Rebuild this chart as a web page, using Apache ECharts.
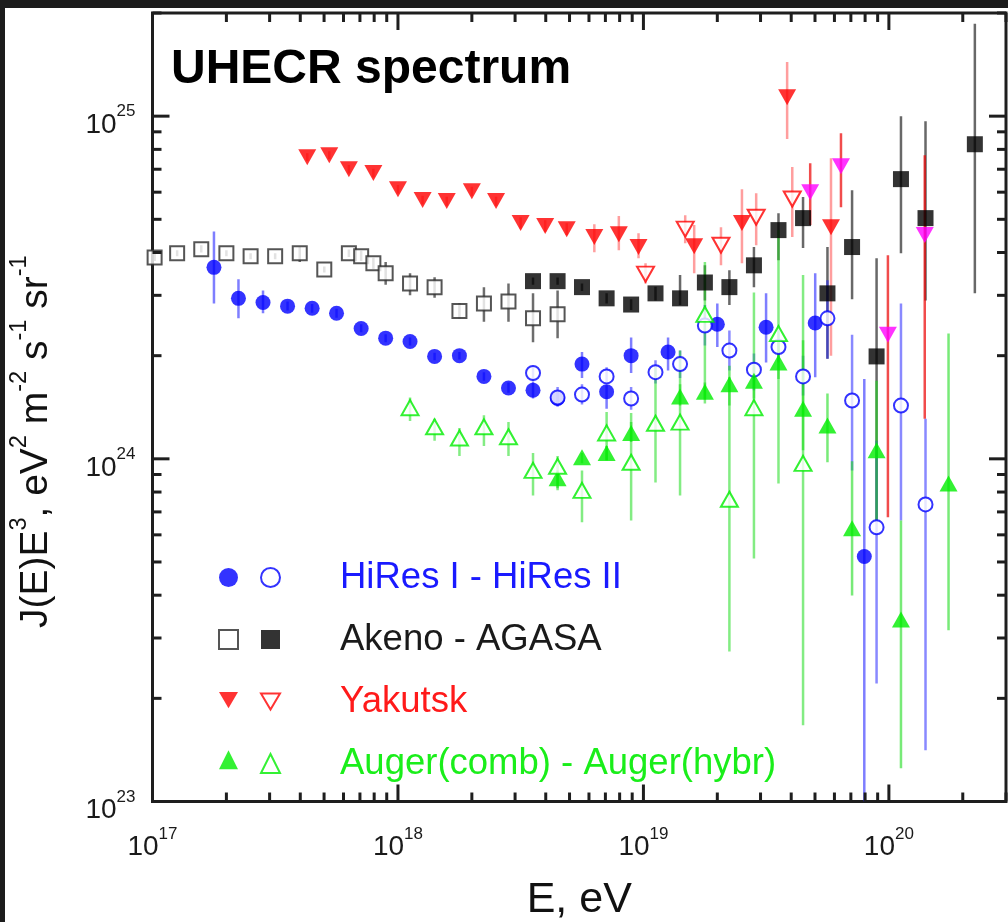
<!DOCTYPE html>
<html>
<head>
<meta charset="utf-8">
<script src="https://cdn.jsdelivr.net/npm/echarts@6/dist/echarts.min.js"></script>
<style>
html,body{margin:0;padding:0;background:#1b1b1b;}
#c{width:1008px;height:922px;}
</style>
</head>
<body>
<div id="c"></div>
<script>
// ---------------- DATA (E in eV, J(E)E^3 in eV^2 m^-2 s^-1 sr^-1) ----------------
const hiresI_E  = [1.78e17, 2.24e17, 2.82e17, 3.55e17, 4.47e17, 5.62e17, 7.08e17, 8.91e17, 1.12e18, 1.41e18, 1.78e18, 2.24e18, 2.82e18, 3.55e18, 4.47e18, 5.62e18, 7.08e18, 8.91e18, 1.26e19, 2.00e19, 3.16e19, 5.01e19, 7.94e19];
const hiresI_J  = [3.62e24, 2.94e24, 2.86e24, 2.79e24, 2.75e24, 2.66e24, 2.40e24, 2.25e24, 2.20e24, 1.99e24, 2.00e24, 1.74e24, 1.61e24, 1.585e24, 1.50e24, 1.89e24, 1.57e24, 2.00e24, 2.05e24, 2.47e24, 2.42e24, 2.49e24, 5.19e23];
const hiresI_lo = [2.84e24, 2.57e24, 2.66e24, 2.71e24, 2.67e24, 2.58e24, 2.34e24, 2.19e24, 2.14e24, 1.94e24, 1.95e24, 1.69e24, 1.56e24, 1.50e24, 1.42e24, 1.72e24, 1.40e24, 1.78e24, 1.81e24, 2.12e24, 1.91e24, 1.73e24, 1.0e23];
const hiresI_hi = [4.61e24, 3.34e24, 3.10e24, 2.88e24, 2.83e24, 2.74e24, 2.47e24, 2.31e24, 2.26e24, 2.04e24, 2.05e24, 1.79e24, 1.67e24, 1.68e24, 1.58e24, 2.05e24, 1.64e24, 2.26e24, 2.26e24, 2.84e24, 3.04e24, 3.48e24, 1.71e24];

const hiresII_E  = [3.55e18, 4.47e18, 5.62e18, 7.08e18, 8.91e18, 1.12e19, 1.41e19, 1.78e19, 2.24e19, 2.82e19, 3.55e19, 4.47e19, 5.62e19, 7.08e19, 8.91e19, 1.12e20, 1.41e20];
const hiresII_J  = [1.78e24, 1.51e24, 1.54e24, 1.74e24, 1.50e24, 1.79e24, 1.89e24, 2.45e24, 2.07e24, 1.82e24, 2.12e24, 1.74e24, 2.57e24, 1.48e24, 6.31e23, 1.43e24, 7.36e23];
const hiresII_lo = [1.69e24, 1.43e24, 1.44e24, 1.66e24, 1.39e24, 1.66e24, 1.72e24, 2.14e24, 1.81e24, 1.585e24, 1.91e24, 1.53e24, 1.96e24, 9.25e23, 2.21e23, 6.61e23, 1.41e23];
const hiresII_hi = [1.87e24, 1.62e24, 1.65e24, 1.85e24, 1.62e24, 1.94e24, 2.07e24, 2.81e24, 2.37e24, 2.03e24, 2.37e24, 2.00e24, 3.32e24, 2.30e24, 1.13e24, 2.84e24, 1.31e24];

const akeno_E  = [1.02e17, 1.26e17, 1.58e17, 2.00e17, 2.51e17, 3.16e17, 3.98e17, 5.01e17, 6.31e17, 7.08e17, 7.94e17, 8.91e17, 1.12e18, 1.41e18, 1.78e18, 2.24e18, 2.82e18, 3.55e18, 4.47e18];
const akeno_J  = [3.87e24, 3.98e24, 4.09e24, 3.98e24, 3.90e24, 3.90e24, 3.98e24, 3.57e24, 3.98e24, 3.90e24, 3.72e24, 3.48e24, 3.25e24, 3.17e24, 2.70e24, 2.84e24, 2.88e24, 2.57e24, 2.64e24];
const akeno_lo = [3.78e24, 3.90e24, 4.00e24, 3.90e24, 3.82e24, 3.82e24, 3.75e24, 3.50e24, 3.88e24, 3.78e24, 3.58e24, 3.22e24, 3.00e24, 2.95e24, 2.57e24, 2.51e24, 2.51e24, 2.19e24, 2.25e24];
const akeno_hi = [3.96e24, 4.06e24, 4.20e24, 4.06e24, 3.98e24, 3.98e24, 4.15e24, 3.64e24, 4.08e24, 4.05e24, 3.86e24, 3.75e24, 3.48e24, 3.39e24, 2.84e24, 3.17e24, 3.25e24, 3.04e24, 3.10e24];

const agasa_E  = [3.55e18, 4.47e18, 5.62e18, 7.08e18, 8.91e18, 1.12e19, 1.41e19, 1.78e19, 2.24e19, 2.82e19, 3.55e19, 4.47e19, 5.62e19, 7.08e19, 8.91e19, 1.12e20, 1.41e20, 2.24e20];
const agasa_J  = [3.30e24, 3.30e24, 3.17e24, 2.94e24, 2.82e24, 3.04e24, 2.94e24, 3.27e24, 3.17e24, 3.67e24, 4.65e24, 5.04e24, 3.04e24, 4.15e24, 1.99e24, 6.55e24, 5.04e24, 8.28e24];
const agasa_lo = [3.22e24, 3.22e24, 3.09e24, 2.84e24, 2.72e24, 2.90e24, 2.81e24, 2.90e24, 2.81e24, 3.17e24, 3.80e24, 4.12e24, 1.96e24, 2.92e24, 6.61e23, 3.98e24, 2.90e24, 3.04e24];
const agasa_hi = [3.38e24, 3.38e24, 3.25e24, 3.04e24, 2.92e24, 3.18e24, 3.44e24, 3.67e24, 3.55e24, 4.15e24, 5.21e24, 5.81e24, 4.15e24, 6.08e24, 3.85e24, 1.00e25, 9.66e24, 1.86e25];

const yak_E  = [4.27e17, 5.25e17, 6.31e17, 7.94e17, 1.00e18, 1.26e18, 1.58e18, 2.00e18, 2.51e18, 3.16e18, 3.98e18, 4.87e18, 6.31e18, 7.94e18, 9.55e18, 1.61e19, 2.52e19, 3.85e19, 5.81e19];
const yak_J  = [7.59e24, 7.69e24, 7.00e24, 6.82e24, 6.12e24, 5.69e24, 5.65e24, 6.04e24, 5.65e24, 4.88e24, 4.78e24, 4.68e24, 4.44e24, 4.52e24, 4.15e24, 4.17e24, 4.88e24, 1.135e25, 4.74e24];
const yak_lo = [7.40e24, 7.50e24, 6.80e24, 6.62e24, 5.95e24, 5.52e24, 5.48e24, 5.86e24, 5.48e24, 4.70e24, 4.60e24, 4.50e24, 4.01e24, 4.06e24, 3.85e24, 3.48e24, 3.72e24, 8.57e24, 2.00e24];
const yak_hi = [7.80e24, 7.90e24, 7.20e24, 7.02e24, 6.30e24, 5.86e24, 5.82e24, 6.22e24, 5.82e24, 5.07e24, 4.97e24, 4.87e24, 4.84e24, 5.11e24, 4.55e24, 4.81e24, 6.12e24, 1.44e25, 7.53e24];

const yakOpen_E  = [1.02e19, 1.48e19, 2.07e19, 2.88e19, 4.04e19];
const yakOpen_J  = [3.46e24, 4.68e24, 4.20e24, 5.07e24, 5.73e24];
const yakOpen_lo = [3.25e24, 4.26e24, 3.67e24, 4.20e24, 4.44e24];
const yakOpen_hi = [3.72e24, 5.14e24, 4.74e24, 5.96e24, 7.10e24];

const yakHigh_E  = [4.78e19, 6.38e19, 9.91e19, 1.40e20];
const yakHigh_J  = [6.00e24, 7.14e24, 2.30e24, 4.50e24];
const yakHigh_lo = [4.81e24, 5.42e24, 6.75e23, 1.31e24];
const yakHigh_hi = [7.29e24, 8.91e24, 3.93e24, 7.69e24];

const augerComb_E  = [4.47e18, 5.62e18, 7.08e18, 8.91e18, 1.41e19, 1.78e19, 2.24e19, 2.82e19, 3.55e19, 4.47e19, 5.62e19, 7.08e19, 8.91e19, 1.12e20, 1.75e20];
const augerComb_J  = [8.77e23, 1.01e24, 1.04e24, 1.19e24, 1.52e24, 1.57e24, 1.65e24, 1.69e24, 1.91e24, 1.40e24, 1.25e24, 6.27e23, 1.06e24, 3.40e23, 8.47e23];
const augerComb_lo = [8.20e23, 9.70e23, 9.90e23, 1.12e24, 1.43e24, 1.49e24, 1.43e24, 1.50e24, 1.71e24, 1.06e24, 9.77e23, 3.99e23, 6.61e23, 1.25e23, 3.16e23];
const augerComb_hi = [9.25e23, 1.04e24, 1.09e24, 1.28e24, 1.65e24, 1.67e24, 1.87e24, 1.85e24, 2.20e24, 2.22e24, 1.55e24, 9.84e23, 1.69e24, 6.61e23, 2.32e24];

const augerHybr_E  = [1.12e18, 1.41e18, 1.78e18, 2.24e18, 2.82e18, 3.55e18, 4.47e18, 5.62e18, 7.08e18, 8.91e18, 1.12e19, 1.41e19, 1.78e19, 2.24e19, 2.82e19, 3.55e19, 4.47e19];
const augerHybr_J  = [1.41e24, 1.24e24, 1.15e24, 1.24e24, 1.16e24, 9.25e23, 9.51e23, 8.09e23, 1.19e24, 9.77e23, 1.27e24, 1.28e24, 2.64e24, 7.62e23, 1.41e24, 2.32e24, 9.70e23];
const augerHybr_lo = [1.29e24, 1.13e24, 1.02e24, 1.09e24, 1.02e24, 7.82e23, 8.09e23, 6.53e23, 9.91e23, 6.61e23, 8.53e23, 7.82e23, 1.45e24, 2.74e23, 5.12e23, 8.47e23, 1.67e23];
const augerHybr_hi = [1.51e24, 1.31e24, 1.23e24, 1.34e24, 1.28e24, 1.04e24, 1.02e24, 9.25e23, 1.37e24, 1.36e24, 1.85e24, 2.07e24, 3.75e24, 1.73e24, 3.06e24, 4.65e24, 3.44e24];

// axis ranges and tick labels
const X_MIN = 1e17, X_MAX = 3e20;
const Y_MIN = 1e23, Y_MAX = 2e25;
const xDecades = [17, 18, 19, 20];
const yDecades = [23, 24, 25];
const titleText = 'UHECR spectrum';
const legendLabels = ['HiRes I - HiRes II', 'Akeno - AGASA', 'Yakutsk', 'Auger(comb) - Auger(hybr)'];

// ---------------- BUILD ----------------
const FONT = '"Liberation Sans", Arial, Helvetica, sans-serif';
const zip2 = (a, b) => a.map((v, i) => [v, b[i]]);
const zip3 = (a, b, c) => a.map((v, i) => [v, b[i], c[i]]);

function errSeries(E, lo, hi, color) {
  return {
    type: 'custom', z: 1, clip: true, silent: true,
    data: zip3(E, lo, hi),
    renderItem: function (params, api) {
      const p1 = api.coord([api.value(0), api.value(1)]);
      const p2 = api.coord([api.value(0), api.value(2)]);
      return { type: 'line', shape: { x1: p1[0], y1: p1[1], x2: p2[0], y2: p2[1] },
               style: { stroke: color, lineWidth: 2.5 } };
    }
  };
}

// axis tick marks (major at decades, minor at 2..9)
const xTicks = [];
xDecades.forEach(d => { for (let m = 1; m <= 9; m++) { const v = m * Math.pow(10, d); if (v <= X_MAX * 1.0001) xTicks.push([v, 1e24, m === 1 ? 17 : 9]); } });
const yTicks = [];
yDecades.forEach(d => { for (let m = 1; m <= 9; m++) { const v = m * Math.pow(10, d); if (v <= Y_MAX * 1.0001) yTicks.push([1e18, v, m === 1 ? 17 : 9]); } });
const TICK_COLOR = '#1e1e1e';

function sciLabel(v) {
  const e = Math.log10(v), r = Math.round(e);
  if (Math.abs(e - r) > 1e-6) return '';
  return '{b|10}{s|' + r + '}';
}
const labelRich = {
  b: { fontSize: 28, lineHeight: 36, verticalAlign: 'bottom', fontFamily: FONT, color: '#1a1a1a' },
  s: { fontSize: 17, lineHeight: 17, verticalAlign: 'top', fontFamily: FONT, color: '#1a1a1a' }
};

const BLUE = '#0000ff', RED = '#ff0000', GREEN = '#00ee00', MAG = '#ff00ff';
const DOWN_TRI = 'path://M0,0L20,0L10,17Z';
const LEG_PAD = [0, 0, 0, 55];

const option = {
  animation: false,
  backgroundColor: '#ffffff',
  graphic: [
    { type: 'rect', shape: { x: 0, y: 0, width: 1008, height: 8 }, style: { fill: '#1c1c1c' }, z: 100 },
    { type: 'rect', shape: { x: 0, y: 0, width: 5, height: 922 }, style: { fill: '#1c1c1c' }, z: 100 }
  ],
  title: {
    text: titleText, left: 171, top: 46, padding: 0,
    textStyle: { fontSize: 48, fontWeight: 'bold', fontFamily: FONT, color: '#000' }
  },
  grid: { left: 152.5, top: 13, right: 2, bottom: 120.5, containLabel: false, outerBoundsMode: 'none',
          show: true, borderColor: '#1e1e1e', borderWidth: 3, backgroundColor: '#fff' },
  xAxis: {
    type: 'log', logBase: 10, min: X_MIN, max: X_MAX,
    axisLine: { show: false }, axisTick: { show: false }, splitLine: { show: false },
    axisLabel: { formatter: sciLabel, rich: labelRich, margin: 24, showMaxLabel: false, hideOverlap: false },
    name: 'E, eV', nameLocation: 'middle', nameGap: 77,
    nameTextStyle: { fontSize: 43, fontFamily: FONT, color: '#111' }
  },
  yAxis: {
    type: 'log', logBase: 10, min: Y_MIN, max: Y_MAX,
    axisLine: { show: false }, axisTick: { show: false }, splitLine: { show: false },
    axisLabel: { formatter: sciLabel, rich: labelRich, margin: 17, padding: [10, 0, 0, 0], showMaxLabel: false, hideOverlap: false },
    name: '{t|J(E)E}{s|3}{t|, eV}{s|2}{t| m}{s|-2}{t| s}{s|-1}{t| sr}{s|-1}',
    nameLocation: 'middle', nameRotate: 90, nameGap: 97,
    nameTextStyle: {
      padding: [0, 69, 0, 0],
      rich: {
        t: { fontSize: 39, lineHeight: 48, verticalAlign: 'bottom', fontFamily: FONT, color: '#111' },
        s: { fontSize: 23.5, lineHeight: 23.5, verticalAlign: 'top', fontFamily: FONT, color: '#111' }
      }
    }
  },
  legend: [
    {
      data: [{ name: 'HiRes I' }, { name: 'Akeno' }, { name: 'Yakutsk', icon: DOWN_TRI }, { name: 'Auger(comb)' }],
      orient: 'vertical', left: 213, top: 563, itemWidth: 19, itemHeight: 19, itemGap: 42,
      selectedMode: false, formatter: () => '', textStyle: { fontSize: 2, lineHeight: 19 }
    },
    {
      data: [{ name: 'HiRes II' }, { name: 'AGASA' },
             { name: 'Yakutsk (open)', icon: DOWN_TRI, itemStyle: { color: '#ffffff', borderColor: RED, borderWidth: 2 } },
             { name: 'Auger(hybr)' }],
      orient: 'vertical', left: 255, top: 554, itemWidth: 19, itemHeight: 19, itemGap: 25,
      selectedMode: false,
      formatter: function (name) {
        const map = { 'HiRes II': ['bl', legendLabels[0]], 'AGASA': ['bk', legendLabels[1]], 'Yakutsk (open)': ['rd', legendLabels[2]], 'Auger(hybr)': ['gr', legendLabels[3]] };
        const m = map[name];
        return '{' + m[0] + '|' + m[1] + '}';
      },
      textStyle: {
        fontSize: 36.5, lineHeight: 19, fontFamily: FONT,
        rich: {
          bl: { color: '#1a1aff', fontSize: 36.5, lineHeight: 19, fontFamily: FONT, padding: LEG_PAD },
          bk: { color: '#1a1a1a', fontSize: 36.5, lineHeight: 19, fontFamily: FONT, padding: LEG_PAD },
          rd: { color: '#ff1a1a', fontSize: 36.5, lineHeight: 19, fontFamily: FONT, padding: LEG_PAD },
          gr: { color: '#1aee1a', fontSize: 36.5, lineHeight: 19, fontFamily: FONT, padding: LEG_PAD }
        }
      }
    }
  ],
  series: [
    // error bars
    errSeries(akeno_E, akeno_lo, akeno_hi, 'rgba(60,60,60,0.75)'),
    errSeries(agasa_E, agasa_lo, agasa_hi, 'rgba(40,40,40,0.7)'),
    errSeries(hiresI_E, hiresI_lo, hiresI_hi, 'rgba(40,40,255,0.6)'),
    errSeries(hiresII_E, hiresII_lo, hiresII_hi, 'rgba(40,40,255,0.55)'),
    errSeries(yak_E, yak_lo, yak_hi, 'rgba(255,40,40,0.45)'),
    errSeries(yakOpen_E, yakOpen_lo, yakOpen_hi, 'rgba(255,40,40,0.45)'),
    errSeries(yakHigh_E, yakHigh_lo, yakHigh_hi, 'rgba(235,0,0,0.7)'),
    errSeries(augerComb_E, augerComb_lo, augerComb_hi, 'rgba(30,220,30,0.6)'),
    errSeries(augerHybr_E, augerHybr_lo, augerHybr_hi, 'rgba(30,220,30,0.55)'),
    // markers
    { name: 'Akeno', type: 'scatter', z: 3, data: zip2(akeno_E, akeno_J), symbol: 'emptyRect', symbolSize: 14, itemStyle: { color: '#2a2a2a', borderWidth: 2 } },
    { name: 'AGASA', type: 'scatter', z: 3, data: zip2(agasa_E, agasa_J), symbol: 'rect', symbolSize: 16, itemStyle: { color: '#000' } },
    { name: 'HiRes I', type: 'scatter', z: 3, data: zip2(hiresI_E, hiresI_J), symbol: 'circle', symbolSize: 15, itemStyle: { color: BLUE } },
    { name: 'HiRes II', type: 'scatter', z: 3, data: zip2(hiresII_E, hiresII_J), symbol: 'emptyCircle', symbolSize: 14, itemStyle: { color: BLUE, borderWidth: 2 } },
    { name: 'Yakutsk', type: 'scatter', z: 3, data: zip2(yak_E, yak_J), symbol: 'triangle', symbolRotate: 180, symbolSize: [18, 16], itemStyle: { color: RED } },
    { name: 'Yakutsk (open)', type: 'scatter', z: 3, data: zip2(yakOpen_E, yakOpen_J), symbol: 'emptyTriangle', symbolRotate: 180, symbolSize: [17, 15], itemStyle: { color: RED, borderWidth: 2 } },
    { name: 'Yakutsk (high)', type: 'scatter', z: 3, data: zip2(yakHigh_E, yakHigh_J), symbol: 'triangle', symbolRotate: 180, symbolSize: [18, 16], itemStyle: { color: MAG } },
    { name: 'Auger(comb)', type: 'scatter', z: 3, data: zip2(augerComb_E, augerComb_J), symbol: 'triangle', symbolSize: [18, 16], itemStyle: { color: GREEN } },
    { name: 'Auger(hybr)', type: 'scatter', z: 3, data: zip2(augerHybr_E, augerHybr_J), symbol: 'emptyTriangle', symbolSize: [17, 15], itemStyle: { color: GREEN, borderWidth: 2 } },
    // axis ticks (bottom + top)
    {
      type: 'custom', z: 5, silent: true, clip: false, data: xTicks,
      renderItem: function (params, api) {
        const cs = params.coordSys;
        const x = api.coord([api.value(0), api.value(1)])[0];
        const len = api.value(2);
        const yb = cs.y + cs.height, yt = cs.y;
        return { type: 'group', children: [
          { type: 'line', shape: { x1: x, y1: yb, x2: x, y2: yb - len }, style: { stroke: TICK_COLOR, lineWidth: 3 } },
          { type: 'line', shape: { x1: x, y1: yt, x2: x, y2: yt + len }, style: { stroke: TICK_COLOR, lineWidth: 3 } }
        ] };
      }
    },
    // axis ticks (left + right)
    {
      type: 'custom', z: 5, silent: true, clip: false, data: yTicks,
      renderItem: function (params, api) {
        const cs = params.coordSys;
        const y = api.coord([api.value(0), api.value(1)])[1];
        const len = api.value(2);
        const xl = cs.x, xr = cs.x + cs.width;
        return { type: 'group', children: [
          { type: 'line', shape: { x1: xl, y1: y, x2: xl + len, y2: y }, style: { stroke: TICK_COLOR, lineWidth: 3 } },
          { type: 'line', shape: { x1: xr, y1: y, x2: xr - len, y2: y }, style: { stroke: TICK_COLOR, lineWidth: 3 } }
        ] };
      }
    }
  ]
};

const chart = echarts.init(document.getElementById('c'), null, { renderer: 'canvas' });
chart.setOption(option);
</script>
</body>
</html>
